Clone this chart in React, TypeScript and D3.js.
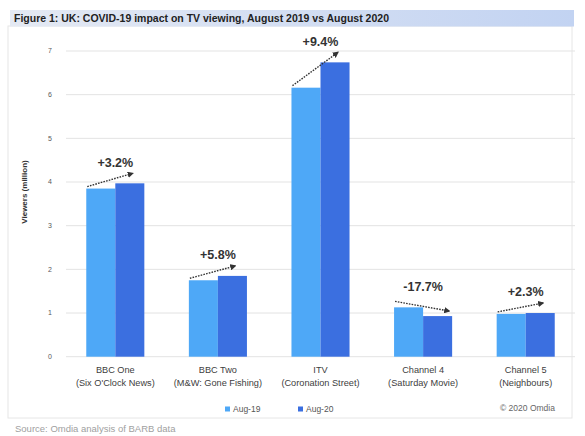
import { useMemo } from "react";
import * as d3 from "d3";

const categories = [
  ["BBC One", "(Six O'Clock News)"],
  ["BBC Two", "(M&W: Gone Fishing)"],
  ["ITV", "(Coronation Street)"],
  ["Channel 4", "(Saturday Movie)"],
  ["Channel 5", "(Neighbours)"],
];
const seriesNames = ["Aug-19", "Aug-20"];
const aug19 = [3.85, 1.75, 6.16, 1.13, 0.98];
const aug20 = [3.97, 1.85, 6.74, 0.93, 1.0];
const changeLabels = ["+3.2%", "+5.8%", "+9.4%", "-17.7%", "+2.3%"];
const yTicks = [0, 1, 2, 3, 4, 5, 6, 7];

const colors = ["#4ea8f7", "#3b6fe0"];
const font = "'Liberation Sans', Arial, sans-serif";

export default function App() {
  const width = 585;
  const height = 436;
  const plot = { left: 64, right: 577, top: 51, bottom: 356.7 };

  const x0 = useMemo(
    () =>
      d3
        .scaleBand<string>()
        .domain(categories.map((c) => c[0]))
        .range([plot.left, plot.right])
        .padding(0),
    []
  );
  const step = x0.bandwidth();
  const x1 = d3
    .scaleBand<string>()
    .domain(seriesNames)
    .range([step * 0.217, step * 0.783])
    .padding(0);
  const y = d3.scaleLinear().domain([0, 7]).range([plot.bottom, plot.top]);
  const bw = x1.bandwidth();

  return (
    <svg
      width={width}
      height={height}
      style={{ position: "absolute", left: 0, top: 0, background: "#fff" }}
      fontFamily={font}
    >
      <defs>
        <linearGradient id="titleGrad" x1="0" x2="1" y1="0" y2="0">
          <stop offset="0%" stopColor="#e4e9f3" />
          <stop offset="100%" stopColor="#c2d3f2" />
        </linearGradient>
        <marker
          id="arrow"
          viewBox="0 0 10 10"
          refX="8"
          refY="5"
          markerWidth="4.5"
          markerHeight="4.5"
          orient="auto"
        >
          <path d="M0,0 L10,5 L0,10 z" fill="#333" />
        </marker>
      </defs>

      <rect x={8} y={26} width={564} height={392} fill="none" stroke="#e6e6e6" />
      <rect x={10} y={10} width={564} height={16.5} fill="url(#titleGrad)" />
      <text x={14} y={22} fontSize={10.5} fontWeight="bold" fill="#222">
        Figure 1: UK: COVID-19 impact on TV viewing, August 2019 vs August 2020
      </text>

      {yTicks.map((t) => (
        <g key={t}>
          <line x1={66} x2={575} y1={y(t)} y2={y(t)} stroke="#e3e3e3" strokeWidth={1} />
          <text
            x={50}
            y={y(t)}
            dy="0.35em"
            textAnchor="middle"
            fontSize={7}
            fill="#595959"
          >
            {t}
          </text>
        </g>
      ))}

      <text
        transform={`translate(24, 192) rotate(-90)`}
        textAnchor="middle"
        dy="0.35em"
        fontSize={8}
        fontWeight="bold"
        fill="#333"
      >
        Viewers (million)
      </text>

      {categories.map((c, i) => {
        const gx = x0(c[0]) ?? 0;
        const vals = [aug19[i], aug20[i]];
        const xa = gx + (x1(seriesNames[0]) ?? 0);
        const xb = gx + (x1(seriesNames[1]) ?? 0);
        const up = aug20[i] >= aug19[i];
        const sx = xa + 1;
        const sy = y(aug19[i]) - (up ? 2 : 6);
        const ex = xb + bw * (up ? 0.6 : 0.9);
        const ey = y(aug20[i]) - (up ? 10 : 5);
        const top = y(Math.max(aug19[i], aug20[i]));
        return (
          <g key={c[0]}>
            {vals.map((v, j) => (
              <rect
                key={j}
                x={gx + (x1(seriesNames[j]) ?? 0)}
                y={y(v)}
                width={bw}
                height={plot.bottom - y(v)}
                fill={colors[j]}
              />
            ))}
            <line
              x1={sx}
              y1={sy}
              x2={ex}
              y2={ey}
              stroke="#333"
              strokeWidth={1.4}
              strokeDasharray="1.6,1.2"
              markerEnd="url(#arrow)"
            />
            <text
              x={gx + step / 2}
              y={top - 21}
              dy="0.35em"
              textAnchor="middle"
              fontSize={12.5}
              fontWeight="bold"
              fill="#333"
            >
              {changeLabels[i]}
            </text>
            <text
              x={gx + step / 2}
              y={373}
              textAnchor="middle"
              fontSize={9.2}
              fill="#404040"
            >
              {c[0]}
            </text>
            <text
              x={gx + step / 2}
              y={385.5}
              textAnchor="middle"
              fontSize={9.2}
              fill="#404040"
            >
              {c[1]}
            </text>
          </g>
        );
      })}

      {seriesNames.map((s, j) => (
        <g key={s} transform={`translate(${225 + j * 73}, 409)`}>
          <rect x={0} y={-2.5} width={5} height={5} fill={colors[j]} />
          <text x={8} y={0} dy="0.35em" fontSize={8.5} fill="#555">
            {s}
          </text>
        </g>
      ))}
      <text x={500} y={408} dy="0.35em" fontSize={8.5} fill="#666">
        © 2020 Omdia
      </text>

      <text x={15} y={432} fontSize={9.5} fill="#a0a0a0">
        Source: Omdia analysis of BARB data
      </text>
    </svg>
  );
}
